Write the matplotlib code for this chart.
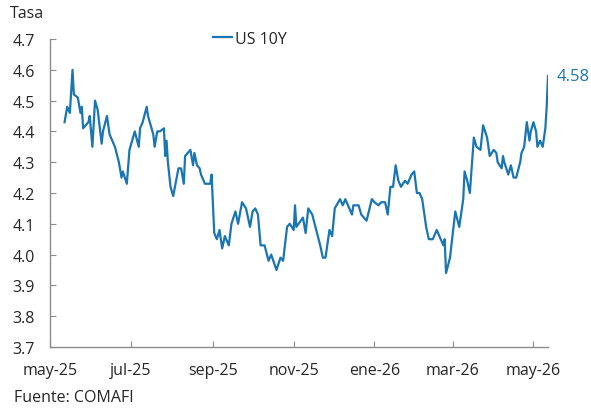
import matplotlib
matplotlib.use("Agg")
import matplotlib.pyplot as plt
import pandas as pd

dates = [
    "2025-05-12", "2025-05-14", "2025-05-16", "2025-05-18", "2025-05-19", "2025-05-22", "2025-05-24", "2025-05-25",
    "2025-05-26", "2025-05-30", "2025-05-31", "2025-06-02", "2025-06-04", "2025-06-06", "2025-06-09", "2025-06-10",
    "2025-06-13", "2025-06-15", "2025-06-19", "2025-06-22", "2025-06-24", "2025-06-25", "2025-06-28", "2025-06-30",
    "2025-07-04", "2025-07-07", "2025-07-08", "2025-07-10", "2025-07-13", "2025-07-14", "2025-07-18", "2025-07-19",
    "2025-07-21", "2025-07-23", "2025-07-26", "2025-07-27", "2025-07-28", "2025-07-29", "2025-07-31", "2025-08-02",
    "2025-08-06", "2025-08-08", "2025-08-10", "2025-08-11", "2025-08-15", "2025-08-17", "2025-08-18", "2025-08-20",
    "2025-08-22", "2025-08-23", "2025-08-26", "2025-08-30", "2025-08-31", "2025-09-02", "2025-09-04", "2025-09-06",
    "2025-09-08", "2025-09-10", "2025-09-13", "2025-09-15", "2025-09-18", "2025-09-20", "2025-09-23", "2025-09-26",
    "2025-09-29", "2025-10-01", "2025-10-03", "2025-10-05", "2025-10-07", "2025-10-10", "2025-10-13", "2025-10-15",
    "2025-10-19", "2025-10-22", "2025-10-24", "2025-10-27", "2025-10-29", "2025-11-01", "2025-11-02", "2025-11-03",
    "2025-11-08", "2025-11-10", "2025-11-12", "2025-11-15", "2025-11-18", "2025-11-21", "2025-11-23", "2025-11-25",
    "2025-11-28", "2025-11-30", "2025-12-02", "2025-12-06", "2025-12-08", "2025-12-10", "2025-12-15", "2025-12-16",
    "2025-12-20", "2025-12-22", "2025-12-26", "2025-12-30", "2026-01-01", "2026-01-04", "2026-01-06", "2026-01-09",
    "2026-01-11", "2026-01-13", "2026-01-15", "2026-01-17", "2026-01-19", "2026-01-21", "2026-01-24", "2026-01-26",
    "2026-01-29", "2026-01-31", "2026-02-02", "2026-02-04", "2026-02-06", "2026-02-07", "2026-02-09", "2026-02-11",
    "2026-02-14", "2026-02-17", "2026-02-19", "2026-02-21", "2026-02-22", "2026-02-23", "2026-02-24", "2026-02-27",
    "2026-03-03", "2026-03-06", "2026-03-09", "2026-03-10", "2026-03-12", "2026-03-14", "2026-03-17", "2026-03-19",
    "2026-03-22", "2026-03-24", "2026-03-27", "2026-03-29", "2026-04-01", "2026-04-03", "2026-04-04", "2026-04-07",
    "2026-04-08", "2026-04-09", "2026-04-12", "2026-04-14", "2026-04-16", "2026-04-18", "2026-04-21", "2026-04-22",
    "2026-04-24", "2026-04-26", "2026-04-28", "2026-04-29", "2026-05-01", "2026-05-03", "2026-05-04", "2026-05-06",
    "2026-05-08", "2026-05-10", "2026-05-11", "2026-05-12",
]
us10y = [
    4.43, 4.48, 4.46, 4.60, 4.52, 4.51, 4.46, 4.48,
    4.41, 4.43, 4.45, 4.35, 4.50, 4.47, 4.36, 4.40,
    4.45, 4.39, 4.35, 4.30, 4.25, 4.27, 4.23, 4.34,
    4.40, 4.35, 4.41, 4.43, 4.48, 4.45, 4.39, 4.35,
    4.40, 4.40, 4.41, 4.32, 4.37, 4.30, 4.22, 4.19,
    4.28, 4.28, 4.23, 4.32, 4.34, 4.29, 4.33, 4.29,
    4.28, 4.26, 4.23, 4.23, 4.26, 4.07, 4.05, 4.08,
    4.02, 4.06, 4.03, 4.10, 4.14, 4.10, 4.17, 4.15,
    4.09, 4.14, 4.15, 4.13, 4.03, 4.03, 3.98, 4.00,
    3.95, 3.99, 3.98, 4.09, 4.10, 4.08, 4.16, 4.09,
    4.12, 4.07, 4.15, 4.13, 4.08, 4.03, 3.99, 3.99,
    4.08, 4.06, 4.15, 4.18, 4.16, 4.18, 4.13, 4.16,
    4.16, 4.13, 4.11, 4.18, 4.17, 4.16, 4.17, 4.17,
    4.13, 4.22, 4.22, 4.29, 4.24, 4.22, 4.24, 4.23,
    4.26, 4.27, 4.20, 4.20, 4.18, 4.15, 4.09, 4.05,
    4.05, 4.08, 4.06, 4.04, 4.03, 4.05, 3.94, 3.99,
    4.14, 4.09, 4.18, 4.27, 4.24, 4.20, 4.38, 4.35,
    4.34, 4.42, 4.38, 4.32, 4.34, 4.33, 4.30, 4.28,
    4.32, 4.30, 4.26, 4.29, 4.25, 4.25, 4.30, 4.33,
    4.35, 4.43, 4.37, 4.40, 4.43, 4.40, 4.35, 4.37,
    4.35, 4.41, 4.48, 4.58,
]
tick_dates = ["2025-05-01", "2025-07-01", "2025-09-01", "2025-11-01", "2026-01-01", "2026-03-01", "2026-05-01"]
tick_labels = ["may-25", "jul-25", "sep-25", "nov-25", "ene-26", "mar-26", "may-26"]
y_ticks = [3.7, 3.8, 3.9, 4.0, 4.1, 4.2, 4.3, 4.4, 4.5, 4.6, 4.7]
series_name = "US 10Y"
last_label = "4.58"

plt.rcParams['font.family'] = ['Open Sans', 'DejaVu Sans']
line_color = "#1a75b3"
text_color = "#262626"
spine_color = "#8c8c8c"

fig = plt.figure(figsize=(5.91, 4.10), dpi=100)
ax = fig.add_axes([50/591, 1-348/410, (548-50)/591, (348-40)/410])

x = pd.to_datetime(dates)
ax.plot(x, us10y, color=line_color, lw=1.6, label=series_name)

ax.set_xlim(pd.Timestamp("2025-05-01"), pd.Timestamp("2026-05-12"))
ax.set_ylim(3.7, 4.7)
ax.set_yticks(y_ticks)
ax.set_yticklabels([f"{v:.1f}" for v in y_ticks])
ax.set_xticks(pd.to_datetime(tick_dates))
ax.set_xticklabels(tick_labels)

for s in ["top", "right"]:
    ax.spines[s].set_visible(False)
for s in ["left", "bottom"]:
    ax.spines[s].set_color(spine_color)
    ax.spines[s].set_linewidth(1.0)

ax.tick_params(axis="y", direction="in", length=4, color=spine_color, labelsize=11.5,
               labelcolor=text_color, pad=11)
ax.tick_params(axis="x", direction="in", length=4, color=spine_color, labelsize=11.5,
               labelcolor=text_color, pad=11)

ax.annotate(last_label, xy=(x[-1], us10y[-1]), xytext=(6, 0), textcoords="offset points",
            color=line_color, fontsize=12, va="center", ha="left", annotation_clip=False)

leg = ax.legend(loc="center left", bbox_to_anchor=(163/498, 1.0), frameon=False,
                handlelength=1.2, handletextpad=0.2, borderpad=0, borderaxespad=0,
                fontsize=11.5)
for t in leg.get_texts():
    t.set_color(text_color)

fig.text(10/591, 1-14/410, "Tasa", fontsize=11.5, color=text_color, va="center", ha="left")
fig.text(14/591, 1-398/410, "Fuente: COMAFI", fontsize=11.5, color=text_color, va="center", ha="left")

fig.savefig("out.png", dpi=100)
